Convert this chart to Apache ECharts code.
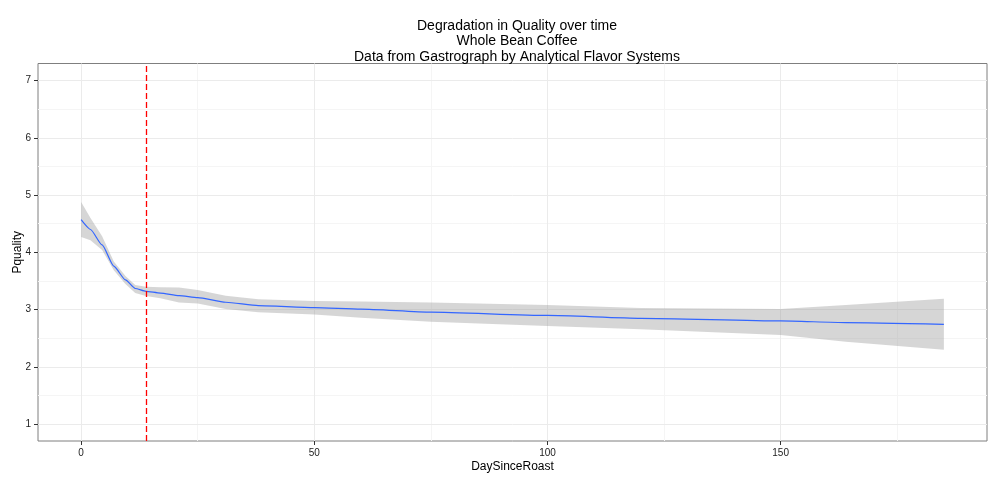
<!DOCTYPE html>
<html>
<head>
<meta charset="utf-8">
<script src="https://cdn.jsdelivr.net/npm/echarts@6/dist/echarts.min.js"></script>
<style>html,body{margin:0;padding:0;background:#fff}#c{width:1000px;height:480px}</style>
</head>
<body>
<div id="c"></div>
<script>
// ---- data ----
var days  = [0, 2, 4.5, 7, 9.5, 11.6, 13.9, 17, 21, 25, 31, 38, 50, 60, 75, 100, 120, 150, 164, 185];
var fit   = [4.57, 4.40, 4.13, 3.76, 3.52, 3.37, 3.32, 3.29, 3.245, 3.21, 3.13, 3.07, 3.037, 3.01, 2.956, 2.90, 2.85, 2.804, 2.775, 2.745];
var upper = [4.88, 4.60, 4.28, 3.84, 3.59, 3.43, 3.40, 3.39, 3.386, 3.345, 3.245, 3.18, 3.153, 3.145, 3.124, 3.08, 3.03, 3.01, 3.08, 3.19];
var lower = [4.27, 4.21, 4.04, 3.69, 3.45, 3.29, 3.24, 3.20, 3.125, 3.11, 3.01, 2.956, 2.914, 2.86, 2.79, 2.717, 2.66, 2.56, 2.44, 2.30];
var refDay = 14;
var xTicks = [0, 50, 100, 150];
var xMinor = [25, 75, 125, 175];
var yTicks = [1, 2, 3, 4, 5, 6, 7];
var yMinor = [1.5, 2.5, 3.5, 4.5, 5.5, 6.5];
var titleLines = ['Degradation in Quality over time', 'Whole Bean Coffee', 'Data from Gastrograph by Analytical Flavor Systems'];
var xName = 'DaySinceRoast';
var yName = 'Pquality';

var chart = echarts.init(document.getElementById('c'), null, {renderer: 'canvas'});
var FONT = 'Liberation Sans, Arial, sans-serif';

function gridLines(vals, axisKey, color) {
  return vals.map(function (v) { var o = {}; o[axisKey] = v; o.lineStyle = {color: color, width: 1, type: 'solid'}; return o; });
}

var option = {
  animation: false,
  backgroundColor: '#ffffff',
  title: {
    text: titleLines.join('\n'),
    left: 512, top: 13, textAlign: 'center',
    textStyle: {fontFamily: FONT, fontSize: 14, fontWeight: 'normal', color: '#000', lineHeight: 15.5}
  },
  grid: {left: 38, right: 13, top: 63.5, bottom: 39, show: true, borderColor: '#7f7f7f', borderWidth: 1,
         backgroundColor: 'transparent', containLabel: false, outerBoundsMode: 'none'},
  xAxis: {
    type: 'value', min: -9.25, max: 194.25, position: 'bottom',
    name: xName, nameLocation: 'middle', nameGap: 20, nameMoveOverlap: false,
    nameTextStyle: {fontFamily: FONT, fontSize: 12, color: '#000'},
    axisLine: {show: false, onZero: false},
    axisTick: {show: true, customValues: xTicks, length: 4, lineStyle: {color: '#333'}},
    axisLabel: {customValues: xTicks, fontFamily: FONT, fontSize: 10, color: '#222', margin: 7},
    splitLine: {show: false}
  },
  yAxis: {
    type: 'value', min: 0.708, max: 7.297, position: 'left',
    name: yName, nameLocation: 'middle', nameRotate: 90, nameGap: 14, nameMoveOverlap: false,
    nameTextStyle: {fontFamily: FONT, fontSize: 12, color: '#000'},
    axisLine: {show: false, onZero: false},
    axisTick: {show: true, customValues: yTicks, length: 4, lineStyle: {color: '#333'}},
    axisLabel: {customValues: yTicks, fontFamily: FONT, fontSize: 10, color: '#222', margin: 7},
    splitLine: {show: false}
  },
  series: [
    {
      type: 'line', data: [], silent: true, z: 0,
      markLine: {
        silent: true, symbol: 'none', label: {show: false}, animation: false, z: 0,
        data: [].concat(
          gridLines(xMinor, 'xAxis', '#f5f5f5'),
          gridLines(yMinor, 'yAxis', '#f5f5f5'),
          gridLines(xTicks, 'xAxis', '#ebebeb'),
          gridLines(yTicks, 'yAxis', '#ebebeb')
        )
      }
    },
    {
      type: 'custom', z: 2, silent: true,
      data: days.map(function (d, i) { return [d, lower[i], upper[i]]; }),
      encode: {x: 0, y: [1, 2]},
      renderItem: function (params, api) {
        if (params.dataIndex !== 0) return null;
        var pts = [];
        for (var i = 0; i < days.length; i++) pts.push(api.coord([days[i], upper[i]]));
        for (var j = days.length - 1; j >= 0; j--) pts.push(api.coord([days[j], lower[j]]));
        return {type: 'polygon', shape: {points: pts}, style: {fill: 'rgba(153,153,153,0.4)', stroke: null}};
      }
    },
    {
      type: 'line', z: 3, silent: true, smooth: 0.2, smoothMonotone: 'x', showSymbol: false,
      data: days.map(function (d, i) { return [d, fit[i]]; }),
      lineStyle: {color: '#3366FF', width: 1.2}
    },
    {
      type: 'line', data: [], z: 4, silent: true,
      markLine: {
        silent: true, symbol: 'none', label: {show: false}, animation: false, z: 6,
        data: [{xAxis: refDay, lineStyle: {color: '#ff0000', width: 1.3, type: [6, 3]}}]
      }
    }
  ]
};
chart.setOption(option);
</script>
</body>
</html>
